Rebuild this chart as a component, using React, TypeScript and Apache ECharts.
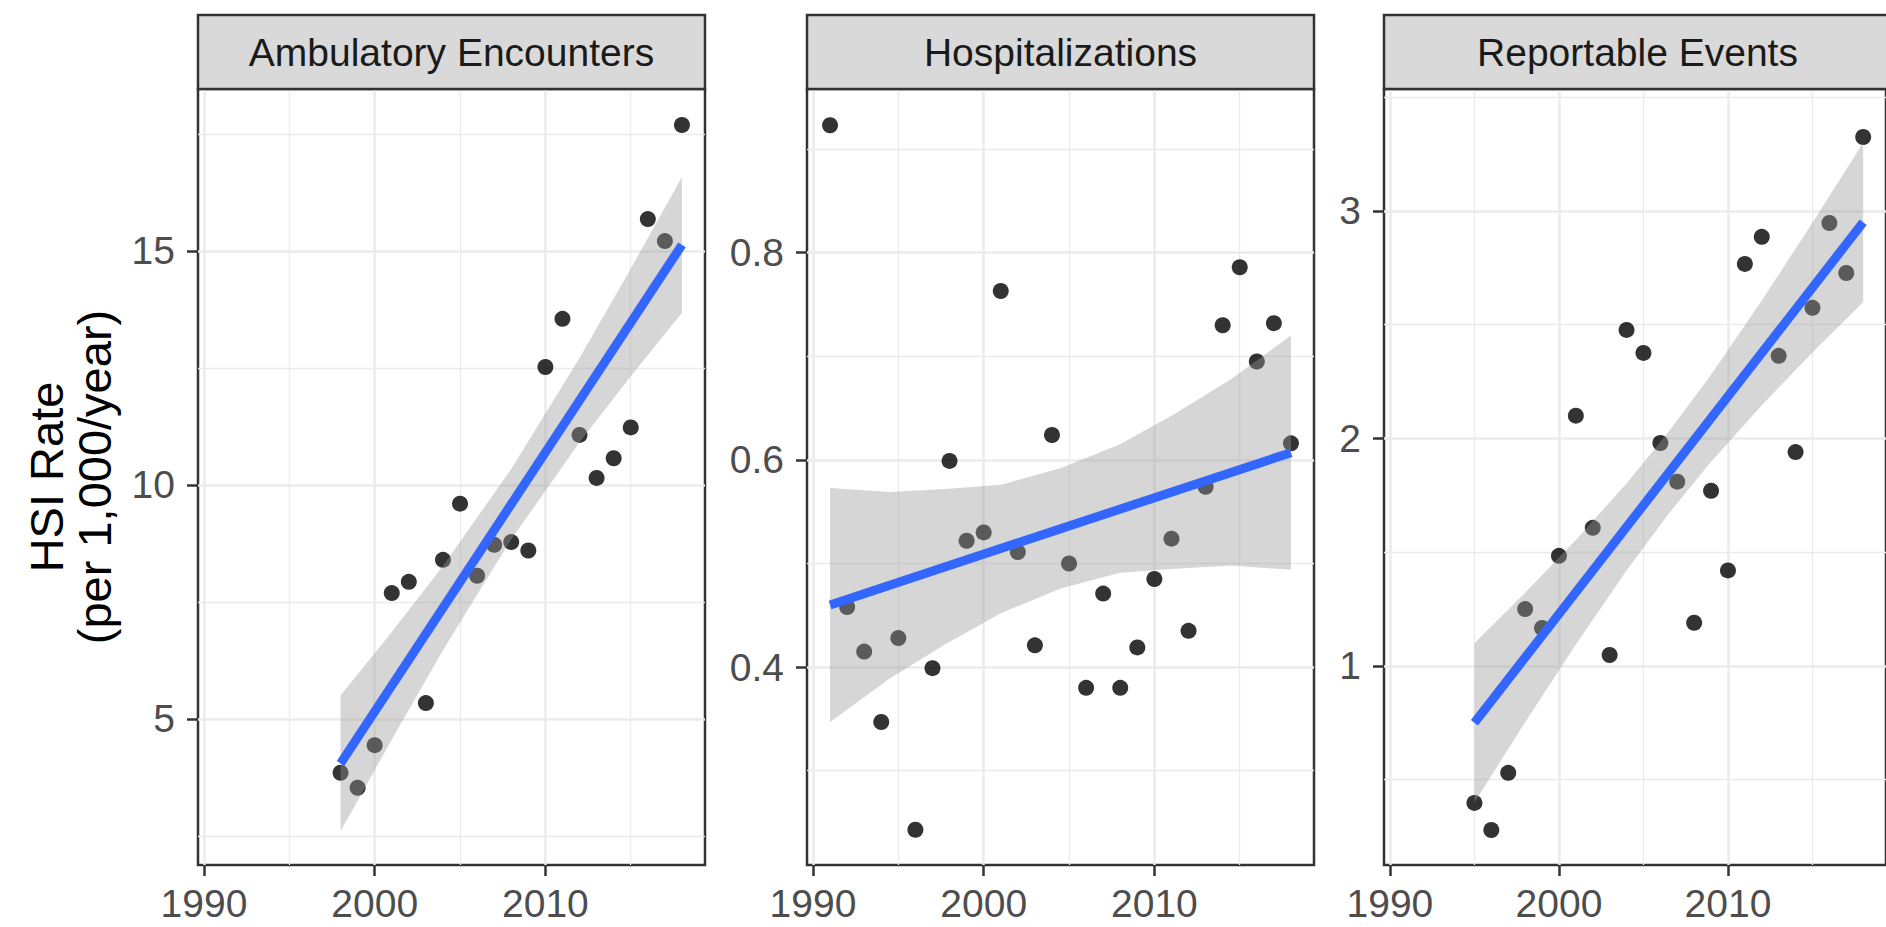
import React, { useEffect, useRef } from "react";
import * as echarts from "echarts";

// ---------- Data ----------
const panelTitles = ["Ambulatory Encounters", "Hospitalizations", "Reportable Events"];
const yAxisTitle = "HSI Rate\n(per 1,000/year)";

const xTickValues = [1990, 2000, 2010];

// Ambulatory Encounters
const ambulatoryYears = [1998, 1999, 2000, 2001, 2002, 2003, 2004, 2005, 2006, 2007, 2008, 2009, 2010, 2011, 2012, 2013, 2014, 2015, 2016, 2017, 2018];
const ambulatoryRates = [3.85, 3.53, 4.44, 7.69, 7.93, 5.34, 8.4, 9.6, 8.06, 8.72, 8.78, 8.6, 12.52, 13.55, 11.07, 10.15, 10.57, 11.23, 15.68, 15.21, 17.69];
const ambulatoryFitYears = [1998, 2018];
const ambulatoryFit = [4.05, 15.13];
const ambulatoryBandYears = [1998, 2001, 2004, 2008, 2012, 2015, 2018];
const ambulatoryBandLower = [2.6, 4.56, 6.47, 8.84, 10.91, 12.32, 13.68];
const ambulatoryBandUpper = [5.5, 6.86, 8.27, 10.34, 12.71, 14.62, 16.58];
const ambulatoryYTicks = [5, 10, 15];

// Hospitalizations
const hospYears = [1991, 1992, 1993, 1994, 1995, 1996, 1997, 1998, 1999, 2000, 2001, 2002, 2003, 2004, 2005, 2006, 2007, 2008, 2009, 2010, 2011, 2012, 2013, 2014, 2015, 2016, 2017, 2018];
const hospRates = [0.923, 0.458, 0.415, 0.347, 0.428, 0.243, 0.399, 0.599, 0.522, 0.53, 0.763, 0.511, 0.421, 0.624, 0.5, 0.38, 0.471, 0.38, 0.419, 0.485, 0.524, 0.435, 0.574, 0.73, 0.786, 0.695, 0.732, 0.616];
const hospFitYears = [1991, 2018];
const hospFit = [0.46, 0.607];
const hospBandYears = [1991, 1994.5, 1997.75, 2001, 2004.5, 2008, 2011.25, 2014.5, 2018];
const hospBandLower = [0.347, 0.389, 0.422, 0.452, 0.476, 0.491, 0.495, 0.498, 0.494];
const hospBandUpper = [0.573, 0.569, 0.572, 0.576, 0.592, 0.615, 0.645, 0.678, 0.72];
const hospYTicks = [0.4, 0.6, 0.8];

// Reportable Events
const reportYears = [1995, 1996, 1997, 1998, 1999, 2000, 2001, 2002, 2003, 2004, 2005, 2006, 2007, 2008, 2009, 2010, 2011, 2012, 2013, 2014, 2015, 2016, 2017, 2018];
const reportRates = [0.398, 0.279, 0.53, 1.25, 1.167, 1.484, 2.1, 1.607, 1.048, 2.477, 2.376, 1.98, 1.81, 1.19, 1.77, 1.42, 2.767, 2.886, 2.363, 1.94, 2.574, 2.947, 2.727, 3.325];
const reportFitYears = [1995, 2018];
const reportFit = [0.75, 2.95];
const reportBandYears = [1995, 1998, 2001, 2004, 2006.5, 2009, 2012, 2015, 2018];
const reportBandLower = [0.4, 0.752, 1.094, 1.42, 1.67, 1.898, 2.146, 2.378, 2.6];
const reportBandUpper = [1.1, 1.322, 1.554, 1.802, 2.03, 2.28, 2.606, 2.948, 3.3];
const reportYTicks = [1, 2, 3];

// Axis ranges (ggplot expanded limits)
const xRange = [1989.65, 2019.35];
const yRanges = [
  [1.88, 18.46],
  [0.209, 0.958],
  [0.125, 3.536],
];
const yIntervals = [5, 0.2, 1];

// ---------- Layout / style ----------
const FONT = '"Liberation Sans", Arial, Helvetica, sans-serif';
const PLOT_TOP = 89;
const PLOT_H = 776;
const PLOT_W = 507;
const PANEL_LEFTS = [198, 807, 1384];
const STRIP_TOP = 15;
const BORDER = "#333333";
const GRID_COL = "#EBEBEB";

const panels = [
  { years: ambulatoryYears, rates: ambulatoryRates, fitX: ambulatoryFitYears, fitY: ambulatoryFit, bandX: ambulatoryBandYears, lo: ambulatoryBandLower, hi: ambulatoryBandUpper, yTicks: ambulatoryYTicks },
  { years: hospYears, rates: hospRates, fitX: hospFitYears, fitY: hospFit, bandX: hospBandYears, lo: hospBandLower, hi: hospBandUpper, yTicks: hospYTicks },
  { years: reportYears, rates: reportRates, fitX: reportFitYears, fitY: reportFit, bandX: reportBandYears, lo: reportBandLower, hi: reportBandUpper, yTicks: reportYTicks },
];

function buildOption() {
  const grid: any[] = [];
  const xAxis: any[] = [];
  const yAxis: any[] = [];
  const series: any[] = [];
  const graphic: any[] = [];

  panels.forEach((p, i) => {
    grid.push({
      left: PANEL_LEFTS[i],
      top: PLOT_TOP,
      width: PLOT_W,
      height: PLOT_H,
      show: true,
      backgroundColor: "#ffffff",
      borderColor: BORDER,
      borderWidth: 2.5,
      containLabel: false,
    });
    xAxis.push({
      type: "value",
      gridIndex: i,
      min: xRange[0],
      max: xRange[1],
      minInterval: 10,
      maxInterval: 10,
      axisLine: { show: false },
      axisTick: { show: true, length: 11, customValues: xTickValues, lineStyle: { color: BORDER, width: 2.5 } },
      axisLabel: { show: true, customValues: xTickValues, fontSize: 39, color: "#4D4D4D", fontFamily: FONT, margin: 19, formatter: (v: number) => String(v) },
      splitLine: { show: true, lineStyle: { color: GRID_COL, width: 2.5 } },
      minorTick: { show: false, splitNumber: 2 },
      minorSplitLine: { show: true, lineStyle: { color: GRID_COL, width: 1.3 } },
    });
    yAxis.push({
      type: "value",
      gridIndex: i,
      min: yRanges[i][0],
      max: yRanges[i][1],
      minInterval: yIntervals[i],
      maxInterval: yIntervals[i],
      axisLine: { show: false },
      axisTick: { show: true, length: 11, customValues: p.yTicks, lineStyle: { color: BORDER, width: 2.5 } },
      axisLabel: { show: true, customValues: p.yTicks, fontSize: 39, color: "#4D4D4D", fontFamily: FONT, margin: 23, formatter: (v: number) => String(v) },
      splitLine: { show: true, lineStyle: { color: GRID_COL, width: 2.5 } },
      minorTick: { show: false, splitNumber: 2 },
      minorSplitLine: { show: true, lineStyle: { color: GRID_COL, width: 1.3 } },
      ...(i === 0
        ? {
            name: yAxisTitle,
            nameLocation: "middle",
            nameRotate: 90,
            nameGap: 80,
            nameTextStyle: { fontSize: 47, color: "#000000", fontFamily: FONT, lineHeight: 48, align: "center" },
          }
        : {}),
    });

    // points
    series.push({
      type: "scatter",
      xAxisIndex: i,
      yAxisIndex: i,
      data: p.years.map((y, k) => [y, p.rates[k]]),
      symbol: "circle",
      symbolSize: 16,
      itemStyle: { color: "#000000" },
      silent: true,
      z: 2,
    });

    // confidence band
    const bandData = p.bandX.map((x, k) => [x, p.lo[k], p.hi[k]]);
    series.push({
      type: "custom",
      xAxisIndex: i,
      yAxisIndex: i,
      data: bandData,
      encode: { x: 0, y: [1, 2] },
      clip: true,
      silent: true,
      z: 3,
      renderItem: (params: any, api: any) => {
        if (params.dataIndex !== 0) return null;
        const upper = bandData.map((d) => api.coord([d[0], d[2]]));
        const lower = bandData.map((d) => api.coord([d[0], d[1]])).reverse();
        return {
          type: "polygon",
          shape: { points: upper.concat(lower) },
          style: { fill: "rgba(153,153,153,0.4)", stroke: "none" },
        };
      },
    });

    // fitted line
    series.push({
      type: "line",
      xAxisIndex: i,
      yAxisIndex: i,
      data: p.fitX.map((x, k) => [x, p.fitY[k]]),
      symbol: "none",
      lineStyle: { color: "#3366FF", width: 9, cap: "butt" },
      silent: true,
      z: 4,
    });

    // strip
    graphic.push({
      type: "rect",
      shape: { x: PANEL_LEFTS[i], y: STRIP_TOP, width: PLOT_W, height: PLOT_TOP - STRIP_TOP },
      style: { fill: "#D9D9D9", stroke: BORDER, lineWidth: 2.5 },
      z: 10,
    });
    graphic.push({
      type: "text",
      x: PANEL_LEFTS[i] + PLOT_W / 2,
      y: (STRIP_TOP + PLOT_TOP) / 2,
      style: {
        text: panelTitles[i],
        fontSize: 39,
        fontFamily: FONT,
        fill: "#1A1A1A",
        align: "center",
        verticalAlign: "middle",
      },
      z: 11,
    });
  });

  return {
    animation: false,
    backgroundColor: "#ffffff",
    grid,
    xAxis,
    yAxis,
    series,
    graphic,
  };
}

export default function App() {
  const ref = useRef<HTMLDivElement>(null);
  useEffect(() => {
    document.body.style.margin = "0";
    document.body.style.overflow = "hidden";
    if (!ref.current) return;
    const chart = echarts.init(ref.current, undefined, { renderer: "svg" });
    chart.setOption(buildOption());
    return () => chart.dispose();
  }, []);
  return <div ref={ref} style={{ width: 1886, height: 927 }} />;
}
